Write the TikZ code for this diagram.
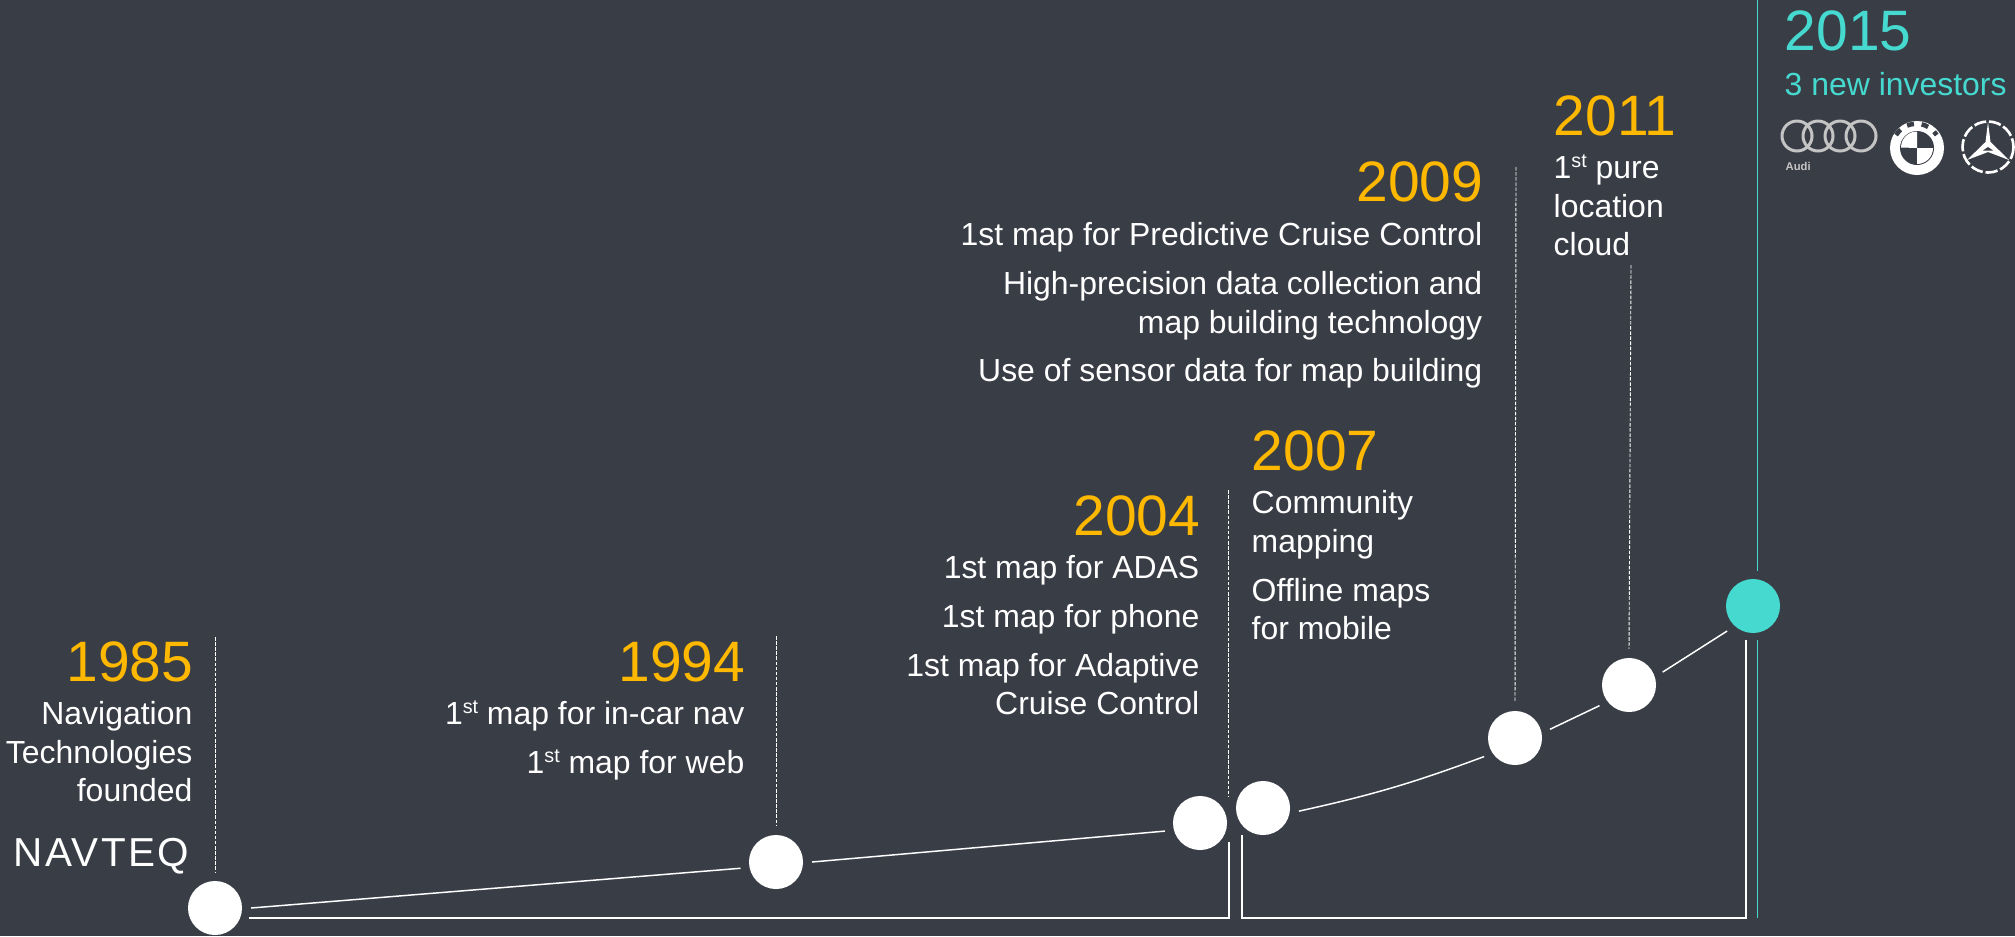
\documentclass[tikz,border=0pt]{standalone}
\usepackage{fontspec}
\setmainfont{Liberation Sans}
\usepackage{tikz}
\usetikzlibrary{positioning}

\definecolor{slate}{HTML}{393D46}
\definecolor{amber}{HTML}{FFB800}
\definecolor{teal2}{HTML}{46D9CF}
\definecolor{ringgrey}{HTML}{C4C4C4}

\newcommand{\stmark}{\raisebox{0.36em}{\fontsize{5.6}{6}\selectfont st}}

\tikzset{
  stage/.style={circle, fill=white, minimum size=0.54cm, inner sep=0pt, outer sep=0.09cm},
  year/.style={inner sep=0pt, text=amber, font=\fontsize{16.2}{18}\selectfont},
  note/.style={inner sep=0pt, text=white, font=\fontsize{9.08}{10.9}\selectfont},
  curve/.style={white, line width=0.42pt},
  bracket/.style={white, line width=0.55pt},
  dashline/.style={white, line width=0.26pt, dash pattern=on 1pt off 0.45pt},
  tealline/.style={teal2, line width=0.25pt}
}

\begin{document}
\begin{tikzpicture}
[x=0.01cm, y=-0.01cm]

\path[use as bounding box, fill=slate] (0,0) rectangle (2015,936);

\node [stage] (n1985) at (215,908) {};
\node [stage] (n1994) at (776,862) {};
\node [stage] (n2004) at (1200,823) {};
\node [stage] (n2007) at (1263,808) {};
\node [stage] (n2009) at (1515,738) {};
\node [stage] (n2011) at (1629,685) {};
\node [stage, fill=teal2] (n2015) at (1753,606) {};

\draw[curve] (n1985.east) -- (n1994.190);
\draw[curve] (n1994.east) -- (n2004.193);
\draw[curve] (n2007.355) to [bend right=4] (n2009.211);
\draw[curve] (n2009.14) -- (n2011.215);
\draw[curve] (n2011.21) -- (n2015.224);

% brackets under the curve
\coordinate (b1a) at (249,918);
\coordinate (b1b) at (1229,918);
\coordinate (b1c) at (1229,842);
\coordinate (b2a) at (1242,835);
\coordinate (b2b) at (1242,918);
\coordinate (b2c) at (1746,918);
\coordinate (b2d) at (1746,640);
\draw[bracket] (b1a) -- (b1b) -- (b1c);
\draw[bracket] (b2a) -- (b2b) -- (b2c) -- (b2d);

% dashed leaders
\coordinate (d1985) at (215,637);
\coordinate (d1994) at (776,636);
\coordinate (d2004) at (1228,490);
\coordinate (d2004e) at (1228,797);
\coordinate (d2009) at (1516,167);
\coordinate (d2011) at (1631,265);
\draw[dashline] (d1985) -- (n1985.north);
\draw[dashline] (d1994) -- (n1994.north);
\draw[dashline] (d2004) -- (d2004e);
\draw[dashline] (d2009) -- (n2009.north);
\draw[dashline] (d2011) -- (n2011.north);

\coordinate (t1) at (1757,0);
\coordinate (t2) at (1757,571);
\coordinate (t3) at (1757,640);
\coordinate (t4) at (1757,918);
\draw[tealline] (t1) -- (t2);
\draw[tealline] (t3) -- (t4);

% years
\node [year, anchor=base east] (y1985) at (194,681) {1985};
\node [year, anchor=base east] (y1994) at (746,681) {1994};
\node [year, anchor=base east] (y2004) at (1201,535) {2004};
\node [year, anchor=base west] (y2007) at (1251,470) {2007};
\node [year, anchor=base east] (y2009) at (1484,201) {2009};
\node [year, anchor=base west] (y2011) at (1553,135) {2011};
\node [year, anchor=base west, text=teal2] (y2015) at (1784,50) {2015};

% notes
\node [note, align=right, anchor=north east] (t1985) at (193,701) {Navigation\\Technologies\\founded};
\node [note, align=right, anchor=north east] (t1994) at (745,700) {1\stmark{} map for in-car nav\\[3pt]1\stmark{} map for web};
\node [note, align=right, anchor=north east] (t2004) at (1200,555) {1st map for ADAS\\[3pt]1st map for phone\\[3pt]1st map for Adaptive\\Cruise Control};
\node [note, align=left, anchor=north west] (t2007) at (1251,490) {Community\\mapping\\[3pt]Offline maps\\for mobile};
\node [note, align=right, anchor=north east] (t2009) at (1483,222) {1st map for Predictive Cruise Control\\[3pt]High-precision data collection and\\map building technology\\[3pt]Use of sensor data for map building};
\node [note, align=left, anchor=north west] (t2011) at (1553,154) {1\stmark{} pure\\location\\cloud};
\node [note, anchor=base west, text=teal2] (t2015) at (1784,95) {3 new investors};

% logos
\node [inner sep=0pt, anchor=base west, text=white, font=\fontsize{11.5}{12}\selectfont] (navteq) at (13,866) {\addfontfeature{LetterSpace=6}NAVTEQ};

\foreach \ringx in {1797,1818,1840,1861}
  \draw[ringgrey, line width=0.85pt] (\ringx,136) circle (15);
\node [inner sep=0pt, anchor=base west, text=ringgrey, font=\fontsize{3.2}{4}\selectfont\bfseries] (audi) at (1785,170) {Audi};

\begin{scope}
\clip (1885,115) rectangle (2015,175);
\fill[white] (1917,148) circle (27);
\fill[slate] (1917,148) circle (17);
\fill[white] (1917,148) -- (1917,131.5) arc[start angle=-90, end angle=-180, radius=16] -- cycle;
\fill[white] (1917,148) -- (1917,164) arc[start angle=90, end angle=0, radius=16] -- cycle;
\draw[slate, line width=1.3pt, dash pattern=on 2pt off 2.2pt] (1896,135) arc[start angle=-148, end angle=-32, radius=24];
\draw[white, line width=0.75pt, dash pattern=on 3.5pt off 0.8pt] (1988,147) circle (25.5);
\fill[white] (1988,122) -- (1990.5,142) -- (2009,160) -- (1988,152) -- (1967,160) -- (1985.5,142) -- cycle;
\fill[slate] (1988,147) -- (1993,150.5) -- (1983,150.5) -- cycle;
\end{scope}

\end{tikzpicture}
\end{document}
